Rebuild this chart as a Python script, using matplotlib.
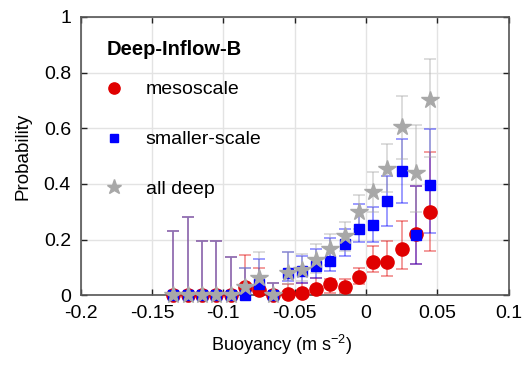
import numpy as np
import matplotlib.pyplot as plt
from matplotlib.lines import Line2D

plt.rcParams['font.family'] = ['Liberation Sans', 'DejaVu Sans']

# buoyancy bin centres (m s^-2)
buoy = [-0.135, -0.125, -0.115, -0.105, -0.095, -0.085, -0.075, -0.065, -0.055, -0.045,
        -0.035, -0.025, -0.015, -0.005, 0.005, 0.015, 0.025, 0.035, 0.045]

meso = [0, 0, 0, 0, 0, 0.03, 0.02, 0, 0.005, 0.01, 0.024, 0.042, 0.03, 0.065, 0.12, 0.12, 0.165, 0.22, 0.30]
meso_lo = [0, 0, 0, 0, 0, 0, 0, 0, 0, 0, 0, 0.01, 0.01, 0.04, 0.084, 0.07, 0.094, 0.112, 0.16]
meso_hi = [0.232, 0.28, 0.196, 0.196, 0.136, 0.144, 0.1, 0.046, 0.04, 0.046, 0.064, 0.058, 0.058, 0.1, 0.178, 0.196, 0.268, 0.392, 0.513]

small = [0, 0, 0, 0, 0, 0, 0.04, 0, 0.082, 0.088, 0.104, 0.124, 0.184, 0.238, 0.253, 0.337, 0.447, 0.217, 0.397]
small_lo = [0, 0, 0, 0, 0, 0, 0.01, 0, 0.052, 0.046, 0.064, 0.088, 0.142, 0.192, 0.192, 0.25, 0.332, 0.112, 0.224]
small_hi = [0.232, 0.28, 0.196, 0.196, 0.136, 0.1, 0.13, 0.046, 0.154, 0.142, 0.166, 0.205, 0.238, 0.328, 0.317, 0.428, 0.563, 0.392, 0.597]

deep = [0, 0, 0, 0, 0, 0.03, 0.062, 0, 0.08, 0.09, 0.127, 0.166, 0.214, 0.30, 0.37, 0.452, 0.605, 0.44, 0.70]
deep_lo = [0, 0, 0, 0, 0, 0, 0.02, 0, 0.04, 0.05, 0.08, 0.11, 0.16, 0.24, 0.30, 0.37, 0.49, 0.3, 0.497]
deep_hi = [0.232, 0.28, 0.196, 0.196, 0.136, 0.1, 0.154, 0.046, 0.154, 0.148, 0.184, 0.22, 0.262, 0.361, 0.443, 0.545, 0.716, 0.611, 0.849]

fig = plt.figure(figsize=(5.22, 3.66), dpi=100)
ax = fig.add_axes([0.1546, 0.193, 0.82, 0.761])

series = [
    (meso, meso_lo, meso_hi, '#e00000', 'o', 9.5, 'mesoscale'),
    (small, small_lo, small_hi, '#0000ff', 's', 7, 'smaller-scale'),
    (deep, deep_lo, deep_hi, '#a8a8a8', '*', 13, 'all deep'),
]

handles = []
for k, (v, lo, hi, col, mk, ms, lab) in enumerate(series):
    v = np.array(v)
    yerr = [v - np.array(lo), np.array(hi) - v]
    ax.errorbar(buoy, v, yerr=yerr, fmt='none', ecolor=col, alpha=0.42,
                elinewidth=1.3, capsize=4.5, capthick=1.3, zorder=2 + k)
    ax.plot(buoy, v, ls='none', marker=mk, ms=ms, color=col,
            mec=col, zorder=5 + k, clip_on=False)
    handles.append(Line2D([], [], ls='none', marker=mk, ms=ms * 0.85, color=col, label=lab))

ax.set_xlim(-0.2, 0.1)
ax.set_ylim(0, 1)
ax.set_xticks([-0.2, -0.15, -0.1, -0.05, 0, 0.05, 0.1])
ax.set_xticklabels(['-0.2', '-0.15', '-0.1', '-0.05', '0', '0.05', '0.1'])
ax.set_yticks([0, 0.2, 0.4, 0.6, 0.8, 1])
ax.set_yticklabels(['0', '0.2', '0.4', '0.6', '0.8', '1'])
ax.grid(color='#e3e3e3', lw=1)
ax.set_axisbelow(True)
ax.tick_params(direction='in', top=True, right=True, length=4, width=1,
               color='#222222', labelsize=14, pad=7)
for s in ax.spines.values():
    s.set_color('#555555')
    s.set_linewidth(1.2)

ax.set_xlabel('Buoyancy (m s$^{\\mathregular{-2}}$)', fontsize=13)
ax.xaxis.set_label_coords(0.468, -0.135)
ax.set_ylabel('Probability', fontsize=13.5, labelpad=9)

ax.text(0.0615, 0.883, 'Deep-Inflow-B', transform=ax.transAxes, fontsize=14.5,
        fontweight='bold', ha='left', va='center')
ax.legend(handles=handles, loc='upper left', bbox_to_anchor=(0.038, 0.798),
          frameon=False, fontsize=14, labelspacing=1.66, handlelength=1.0,
          handletextpad=1.1, borderaxespad=0)

fig.savefig('out.png', dpi=100)
